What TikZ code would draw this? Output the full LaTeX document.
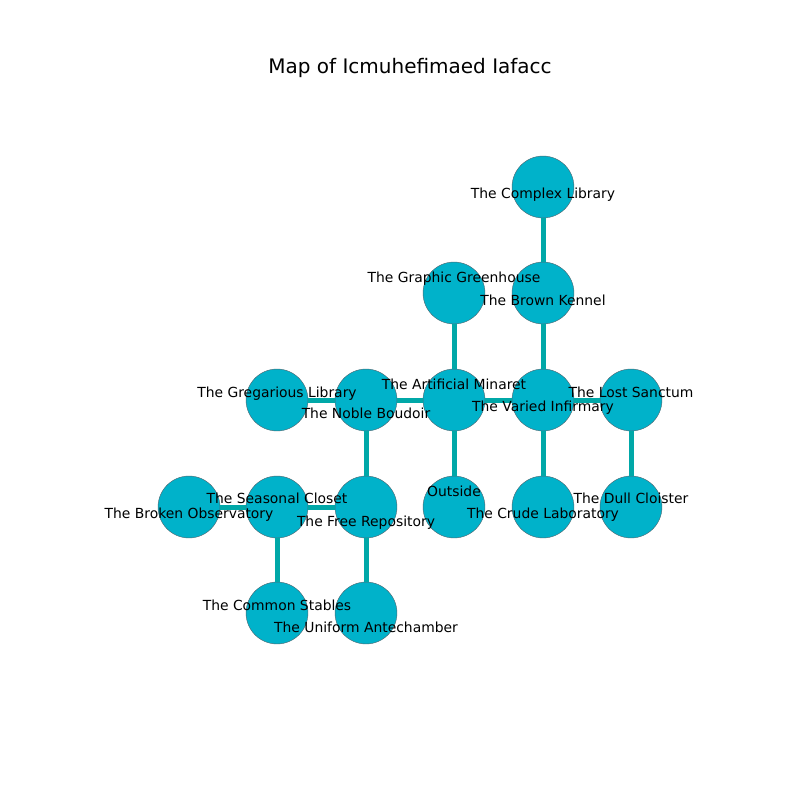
\documentclass[tikz,border=0pt]{standalone}
\usepackage{fontspec}
\setmainfont{DejaVu Sans}
\usetikzlibrary{positioning}
\definecolor{roomcolor}{RGB}{0,178,202}
\definecolor{pathcolor}{RGB}{0,168,168}
\definecolor{rimcolor}{RGB}{80,100,110}

\begin{document}
\begin{tikzpicture}[x=0.72pt, y=-0.72pt,
    room/.style={circle, fill=roomcolor, draw=rimcolor, line width=0.3pt, minimum size=44.6pt, inner sep=0pt},
    passage/.style={pathcolor, line width=3.6pt},
    roomname/.style={font=\fontsize{10}{12}\selectfont, inner sep=0pt, text depth=0pt}]
    \useasboundingbox (0,0) rectangle (800,800);

    % Title
    \node[font=\fontsize{14.4}{17}\selectfont] (title) at (410,68) {Map of Icmuhefimaed Iafacc};

    % Rooms (circles on the grid)
    \node[room] (complex) at (543,187) {};
    \node[room] (greenhouse) at (454,293) {};
    \node[room] (kennel) at (543,293) {};
    \node[room] (gregarious) at (277,400) {};
    \node[room] (boudoir) at (366,400) {};
    \node[room] (minaret) at (454,400) {};
    \node[room] (infirmary) at (543,400) {};
    \node[room] (sanctum) at (631,400) {};
    \node[room] (observatory) at (189,507) {};
    \node[room] (closet) at (277,507) {};
    \node[room] (repository) at (366,507) {};
    \node[room] (outside) at (454,507) {};
    \node[room] (laboratory) at (543,507) {};
    \node[room] (cloister) at (631,507) {};
    \node[room] (stables) at (277,613) {};
    \node[room] (antechamber) at (366,613) {};

    % Passages between rooms
    \draw[passage] (complex) -- (kennel);
    \draw[passage] (kennel) -- (infirmary);
    \draw[passage] (greenhouse) -- (minaret);
    \draw[passage] (gregarious) -- (boudoir);
    \draw[passage] (boudoir) -- (minaret);
    \draw[passage] (minaret) -- (infirmary);
    \draw[passage] (infirmary) -- (sanctum);
    \draw[passage] (sanctum) -- (cloister);
    \draw[passage] (minaret) -- (outside);
    \draw[passage] (infirmary) -- (laboratory);
    \draw[passage] (boudoir) -- (repository);
    \draw[passage] (repository) -- (closet);
    \draw[passage] (closet) -- (observatory);
    \draw[passage] (closet) -- (stables);
    \draw[passage] (repository) -- (antechamber);

    % Room names (drawn on top)
    \node[roomname] (complex-name) at (543,193) {The Complex Library};
    \node[roomname] (greenhouse-name) at (454,277) {The Graphic Greenhouse};
    \node[roomname] (kennel-name) at (543,300) {The Brown Kennel};
    \node[roomname] (gregarious-name) at (277,392) {The Gregarious Library};
    \node[roomname] (boudoir-name) at (366,413) {The Noble Boudoir};
    \node[roomname] (minaret-name) at (454,384) {The Artificial Minaret};
    \node[roomname] (infirmary-name) at (543,406) {The Varied Infirmary};
    \node[roomname] (sanctum-name) at (631,392) {The Lost Sanctum};
    \node[roomname] (outside-name) at (454,491) {Outside};
    \node[roomname] (laboratory-name) at (543,513) {The Crude Laboratory};
    \node[roomname] (cloister-name) at (631,498) {The Dull Cloister};
    \node[roomname] (closet-name) at (277,498) {The Seasonal Closet};
    \node[roomname] (observatory-name) at (189,513) {The Broken Observatory};
    \node[roomname] (repository-name) at (366,521) {The Free Repository};
    \node[roomname] (stables-name) at (277,605) {The Common Stables};
    \node[roomname] (antechamber-name) at (366,627) {The Uniform Antechamber};

\end{tikzpicture}
\end{document}
